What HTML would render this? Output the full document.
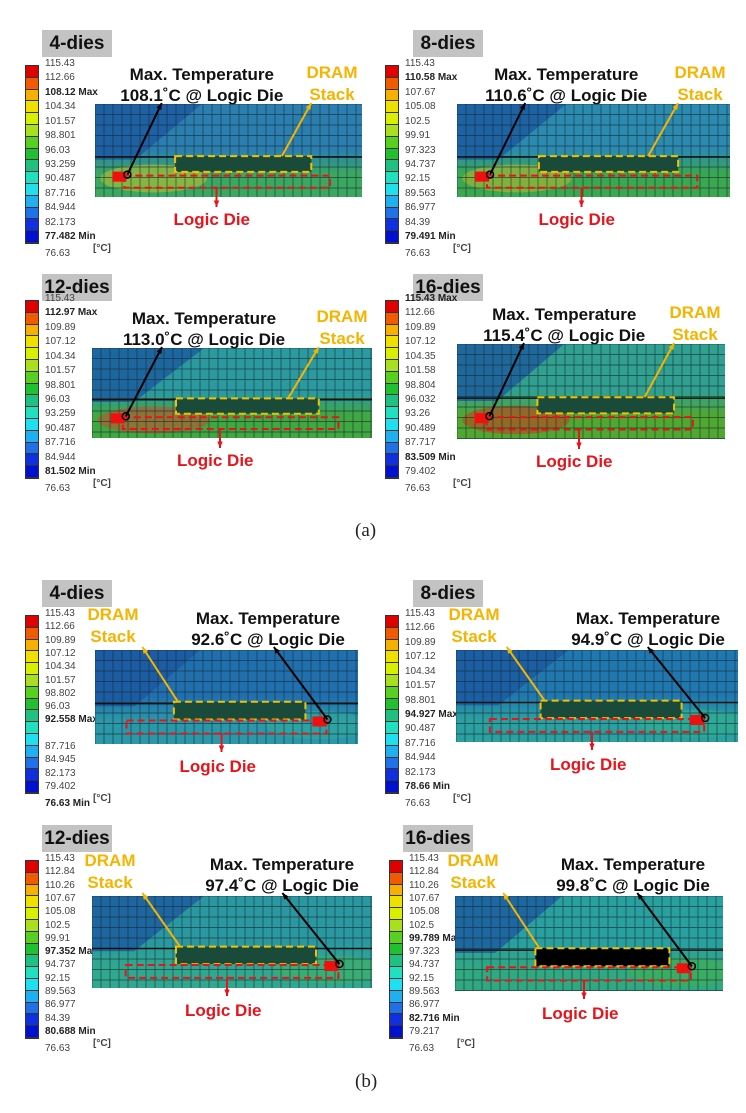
<!DOCTYPE html>
<html><head><meta charset="utf-8">
<style>
body{margin:0;background:#fff;width:746px;height:1113px;overflow:hidden;position:relative;font-family:"Liberation Sans","DejaVu Sans",sans-serif}
.abs{position:absolute}
.lbl{background:#c3c3c3;font-weight:bold;font-size:19px;color:#111;text-align:center;line-height:27px;height:27px;width:70px}
.cbl{font-size:10px;color:#444;white-space:nowrap}
.cbl b{color:#222}
.ttl{font-size:17px;font-weight:bold;color:#111;white-space:nowrap;line-height:21px;text-align:center}
.dram{font-size:17px;font-weight:bold;color:#f5b400;line-height:22px;text-align:center}
.ld{font-size:17px;font-weight:bold;color:#e8141c;white-space:nowrap}
.cap{font-family:"Liberation Serif",serif;font-size:19px;color:#222}
</style></head><body>
<div id="root"></div>
<div class="abs cap" style="left:355px;top:520px">(a)</div>
<div class="abs cap" style="left:355px;top:1071px">(b)</div>
<script>
const cols=["#e00000","#f05a00","#f5b000","#f0e000","#d8f000","#a8e020","#58d020","#20c030","#20c080","#20e0c0","#20e0f0","#20b0f0","#2070e8","#1030e0","#0010d0"];
const P=[
 {n:"4-dies",lx:42,ly:30,cx:25,cy:65,m:[95,104,267,93],t:"a",temp:"108.1",
  L:["115.43","112.66","<b>108.12 Max</b>","104.34","101.57","98.801","96.03","93.259","90.487","87.716","84.944","82.173","<b>77.482 Min</b>"],last:"76.63",top:"#2a7fb0",bot:"#3aa860",hot:"#b8c030"},
 {n:"8-dies",lx:413,ly:30,cx:385,cy:65,m:[457,104,273,93],t:"a",temp:"110.6",
  L:["115.43","<b>110.58 Max</b>","107.67","105.08","102.5","99.91","97.323","94.737","92.15","89.563","86.977","84.39","<b>79.491 Min</b>"],last:"76.63",top:"#2a8ab0",bot:"#3aa850",hot:"#b0b830"},
 {n:"12-dies",lx:42,ly:274,cx:25,cy:300,m:[92,348,280,90],t:"a",temp:"113.0",
  L:["115.43","<b>112.97 Max</b>","109.89","107.12","104.34","101.57","98.801","96.03","93.259","90.487","87.716","84.944","<b>81.502 Min</b>"],last:"76.63",top:"#2a9aa0",bot:"#40a840",hot:"#c05030"},
 {n:"16-dies",lx:413,ly:274,cx:385,cy:300,m:[457,344,268,95],t:"a",temp:"115.4",
  L:["<b>115.43 Max</b>","112.66","109.89","107.12","104.35","101.58","98.804","96.032","93.26","90.489","87.717","<b>83.509 Min</b>","79.402"],last:"76.63",top:"#30a090",bot:"#50a830",hot:"#c04020"},
 {n:"4-dies",lx:42,ly:580,cx:25,cy:615,m:[95,650,263,94],t:"b",temp:"92.6",
  L:["115.43","112.66","109.89","107.12","104.34","101.57","98.802","96.03","<b>92.558 Max</b>","","87.716","84.945","82.173","79.402"],last:"<b>76.63 Min</b>",top:"#2070b0",bot:"#2a98a8",hot:"#30a8a0"},
 {n:"8-dies",lx:413,ly:580,cx:385,cy:615,m:[456,650,282,92],t:"b",temp:"94.9",
  L:["115.43","112.66","109.89","107.12","104.34","101.57","98.801","<b>94.927 Max</b>","90.487","87.716","84.944","82.173","<b>78.66 Min</b>"],last:"76.63",top:"#2078b0",bot:"#2aa0a0",hot:"#30b090"},
 {n:"12-dies",lx:42,ly:825,cx:25,cy:860,m:[92,896,280,92],t:"b",temp:"97.4",
  L:["115.43","112.84","110.26","107.67","105.08","102.5","99.91","<b>97.352 Max</b>","94.737","92.15","89.563","86.977","84.39","<b>80.688 Min</b>"],last:"76.63",top:"#2a98a0",bot:"#30a890",hot:"#40b060"},
 {n:"16-dies",lx:403,ly:825,cx:389,cy:860,m:[455,896,268,95],t:"b",temp:"99.8",
  L:["115.43","112.84","110.26","107.67","105.08","102.5","<b>99.789 Max</b>","97.323","94.737","92.15","89.563","86.977","<b>82.716 Min</b>","79.217"],last:"76.63",top:"#28a0a0",bot:"#30a880",hot:"#40b050"}
];
let h="";
P.forEach((p,i)=>{
 h+=`<div class="abs lbl" style="left:${p.lx}px;top:${p.ly}px">${p.n}</div>`;
 let cb="";cols.forEach((c,k)=>{cb+=`<div style="height:11.8px;background:${c};border-bottom:1px solid #333;box-sizing:border-box"></div>`});
 h+=`<div class="abs" style="left:${p.cx}px;top:${p.cy}px;width:12px;border:1px solid #333">${cb}</div>`;
 const n=p.L.length, y0=p.cy-1, y1=p.cy+172, st=(y1-y0)/(n-1);
 p.L.forEach((s,k)=>{h+=`<div class="abs cbl" style="left:${p.cx+20}px;top:${y0+k*st-6}px">${s}</div>`});
 h+=`<div class="abs cbl" style="left:${p.cx+20}px;top:${p.cy+183}px">${p.last}</div>`;
 h+=`<div class="abs cbl" style="left:${p.cx+68}px;top:${p.cy+178}px;font-weight:bold">[°C]</div>`;
 const [x,y,w,ht]=p.m;
 let g="";for(let gx=0;gx<w;gx+=9)g+=`<line x1="${gx}" y1="0" x2="${gx}" y2="${ht}"/>`;
 for(let gy=0;gy<ht;gy+=10.5)g+=`<line x1="0" y1="${gy}" x2="${w}" y2="${gy}"/>`;
 const A=p.t=="a";
 const dx1=w*0.30,dx2=w*(A?0.81:0.80),dy1=ht*(A?0.56:0.55),dy2=ht*(A?0.73:0.74);
 const lx1=w*(A?0.11:0.12),lx2=w*0.88,ly1=ht*(A?0.77:0.75),ly2=ht*(A?0.90:0.89);
 const mx=A?lx1-12:lx2-14, my=ly1-4;
 h+=`<svg class="abs" style="left:${x}px;top:${y}px;overflow:hidden" width="${w}" height="${ht}">
 <defs><linearGradient id="g${i}" x1="0" y1="0" x2="0" y2="1"><stop offset="0" stop-color="${p.top}"/><stop offset="0.5" stop-color="${p.top}"/><stop offset="0.75" stop-color="${p.bot}"/><stop offset="1" stop-color="${p.bot}"/></linearGradient></defs>
 <rect width="${w}" height="${ht}" fill="url(#g${i})"/>
 <path d="M0 0 L${w*0.4} 0 L${w*0.15} ${ht*0.6} L0 ${ht*0.6}Z" fill="#1a55a0" opacity="0.75"/>
 <ellipse cx="${A?w*0.22:w*0.85}" cy="${ht*0.8}" rx="${w*0.2}" ry="${ht*0.15}" fill="${p.hot}" opacity="0.6"/>
 <g stroke="#1a2a30" stroke-width="0.7" opacity="0.8">${g}</g>
 <line x1="0" y1="${ht*0.57}" x2="${w}" y2="${ht*0.57}" stroke="#111" stroke-width="1.5"/>
 <rect x="${dx1}" y="${dy1}" width="${dx2-dx1}" height="${dy2-dy1}" fill="${i==7?'#000':'#1a4a3a'}" stroke="#f5c000" stroke-width="2" stroke-dasharray="7,4"/>
 <rect x="${lx1}" y="${ly1}" width="${lx2-lx1}" height="${ly2-ly1}" fill="none" stroke="#e8141c" stroke-width="2" stroke-dasharray="7,4"/>
 <rect x="${mx}" y="${my}" width="14" height="10" fill="#f01010"/>
 <circle cx="${mx+15}" cy="${my+3}" r="3.5" fill="none" stroke="#000" stroke-width="1.5"/>
 </svg>`;
 let arr=(x1,y1,x2,y2,c)=>{const a=Math.atan2(y2-y1,x2-x1),L=7;return `<line x1="${x1}" y1="${y1}" x2="${x2}" y2="${y2}" stroke="${c}" stroke-width="2"/><polygon points="${x2},${y2} ${x2-L*Math.cos(a-0.4)},${y2-L*Math.sin(a-0.4)} ${x2-L*Math.cos(a+0.4)},${y2-L*Math.sin(a+0.4)}" fill="${c}"/>`};
 let s="";
 const lcx=x+w*0.5;
 if(A){
  s+=arr(x+mx+15,y+my+3,x+w*0.25,y-1,"#000");
  s+=arr(x+w*0.7,y+dy1,x+w*0.81,y-1,"#f5b400");
  s+=arr(lcx-12,y+ly2,lcx-12,y+ht+10,"#e8141c");
  h+=`<div class="abs ttl" style="left:${x+w*0.4-90}px;top:${y-40}px;width:180px">Max. Temperature<br>${p.temp}˚C @ Logic Die</div>`;
  h+=`<div class="abs dram" style="left:${x+w-60}px;top:${y-42}px;width:60px">DRAM<br>Stack</div>`;
 }else{
  s+=arr(x+mx+15,y+my+3,x+w*0.68,y-3,"#000");
  s+=arr(x+dx1+4,y+dy1,x+w*0.18,y-3,"#f5b400");
  s+=arr(lcx-5,y+ly2,lcx-5,y+ht+8,"#e8141c");
  h+=`<div class="abs ttl" style="left:${x+w-180}px;top:${y-42}px;width:180px">Max. Temperature<br>${p.temp}˚C @ Logic Die</div>`;
  h+=`<div class="abs dram" style="left:${x-12}px;top:${y-46}px;width:60px">DRAM<br>Stack</div>`;
 }
 h+=`<svg class="abs" style="left:0;top:0;overflow:visible" width="1" height="1">${s}</svg>`;
 h+=`<div class="abs ld" style="left:${lcx-(A?55:47)}px;top:${y+ht+13}px">Logic Die</div>`;
});
document.getElementById("root").innerHTML=h;
</script>
</body></html>
